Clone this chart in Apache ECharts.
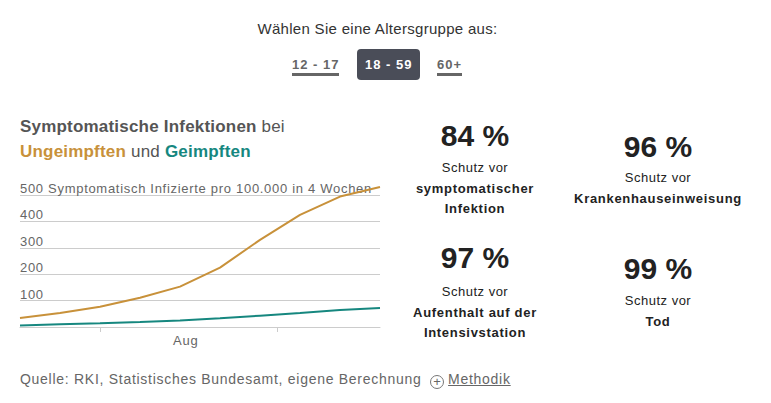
<!DOCTYPE html>
<html><head><meta charset="utf-8">
<script src="https://cdn.jsdelivr.net/npm/echarts@6/dist/echarts.min.js"></script>
<style>
html,body{margin:0;padding:0;background:#fff;width:771px;height:403px;overflow:hidden;font-family:"Liberation Sans",Arial,sans-serif;}
#chart{position:absolute;left:0;top:0;width:771px;height:403px;}
#chart svg text{letter-spacing:0.7px;}
.t{position:absolute;white-space:nowrap;}
.pick{left:0;width:755px;top:20px;text-align:center;font-size:15px;color:#333;letter-spacing:0.3px;}
.btn{top:57px;font-size:13px;font-weight:bold;color:#666;letter-spacing:1px;}
.ul{border-bottom:3px solid #666;padding-bottom:1px;}
.sel{background:#4a4d58;color:#fff;border-radius:4px;padding:8px 8px;top:49px;}
.title{left:20px;font-size:17px;color:#555;letter-spacing:0.2px;}
.big{font-size:30px;font-weight:bold;color:#222;text-align:center;width:160px;}
.sub{font-size:13px;color:#222;text-align:center;width:200px;line-height:20.5px;letter-spacing:0.5px;}
.sub b{letter-spacing:0.7px;}
.foot{left:20px;top:371px;font-size:14px;color:#666;letter-spacing:0.72px;}
</style></head>
<body>
<div id="chart"></div>
<div class="t pick">Wählen Sie eine Altersgruppe aus:</div>
<div class="t btn" style="left:292px;"><span class="ul">12 - 17</span></div>
<div class="t btn sel" style="left:357px;">18 - 59</div>
<div class="t btn" style="left:437px;"><span class="ul">60+</span></div>
<div class="t title" style="top:117px;"><b>Symptomatische Infektionen</b> bei</div>
<div class="t title" style="top:142px;"><b style="color:#c8913a">Ungeimpften</b> und <b style="color:#16877f">Geimpften</b></div>

<div class="t big" style="left:395px;top:119px;">84 %</div>
<div class="t sub" style="left:375px;top:158px;">Schutz vor<br><b>symptomatischer<br>Infektion</b></div>
<div class="t big" style="left:578px;top:130px;">96 %</div>
<div class="t sub" style="left:558px;top:168px;">Schutz vor<br><b>Krankenhauseinweisung</b></div>
<div class="t big" style="left:395px;top:241px;">97 %</div>
<div class="t sub" style="left:375px;top:282px;">Schutz vor<br><b>Aufenthalt auf der<br>Intensivstation</b></div>
<div class="t big" style="left:578px;top:252px;">99 %</div>
<div class="t sub" style="left:558px;top:291px;">Schutz vor<br><b>Tod</b></div>

<div class="t foot">Quelle: RKI, Statistisches Bundesamt, eigene Berechnung <span style="display:inline-block;width:12px;height:12px;border:1px solid #777;border-radius:50%;text-align:center;line-height:12px;font-size:13px;letter-spacing:0;vertical-align:-2px;margin-left:4px;">+</span><span style="text-decoration:underline;margin-left:4px;">Methodik</span></div>

<script>
// Data (weekly values)
const dates = ['2021-07-18','2021-07-25','2021-08-01','2021-08-08','2021-08-15','2021-08-22','2021-08-29','2021-09-05','2021-09-12','2021-09-19'];
const ungeimpft = [34, 53, 77, 111, 153, 225, 330, 425, 494, 530];
const geimpft = [6, 10, 14, 19, 25, 33, 43, 53, 64, 72];
const yTicks = [100, 200, 300, 400, 500];
const yTopLabel = '500 Symptomatisch Infizierte pro 100.000 in 4 Wochen';
const monthTicks = ['2021-08-01', '2021-09-01'];
const monthLabelPos = ['2021-08-16'];
const monthLabels = ['Aug'];

const DAY = 86400000;
const ts = d => Date.parse(d + 'T00:00:00Z');
const day = d => Math.round((ts(d) - ts(dates[0])) / DAY);  // days since first data point

const chart = echarts.init(document.getElementById('chart'), null, {renderer: 'svg'});
chart.setOption({
  animation: false,
  grid: {left: 20, right: 391, top: 195, bottom: 76, containLabel: false},
  xAxis: {
    type: 'value',
    min: day(dates[0]), max: day(dates[dates.length - 1]),
    axisLine: {show: true, lineStyle: {color: '#cccccc', width: 1}},
    axisTick: {show: true, length: 5, lineStyle: {color: '#cccccc'}, customValues: monthTicks.map(day)},
    axisLabel: {
      show: true, color: '#666', fontSize: 13, margin: 7,
      fontFamily: 'Liberation Sans, Arial, sans-serif',
      customValues: monthLabelPos.map(day),
      formatter: v => { const i = monthLabelPos.map(day).indexOf(v); return i >= 0 ? monthLabels[i] : ''; }
    },
    splitLine: {show: false}
  },
  yAxis: {
    type: 'value', min: 0, max: 500, interval: 100,
    axisLine: {show: false}, axisTick: {show: false},
    axisLabel: {
      inside: true, align: 'left', verticalAlign: 'bottom', margin: 0,
      padding: [0, 0, 0, 0],
      color: '#666', fontSize: 13, fontFamily: 'Liberation Sans, Arial, sans-serif',
      formatter: v => v === 500 ? yTopLabel : (yTicks.indexOf(v) >= 0 ? String(v) : '')
    },
    splitLine: {show: true, lineStyle: {color: '#cccccc', width: 1}}
  },
  series: [
    {name: 'Ungeimpfte', type: 'line', data: dates.map((d, i) => [day(d), ungeimpft[i]]), clip: false,
     showSymbol: false, lineStyle: {color: '#c8913a', width: 2}, itemStyle: {color: '#c8913a'}, z: 3},
    {name: 'Geimpfte', type: 'line', data: dates.map((d, i) => [day(d), geimpft[i]]), clip: false,
     showSymbol: false, lineStyle: {color: '#16877f', width: 2}, itemStyle: {color: '#16877f'}, z: 3}
  ]
});
</script>
</body></html>
